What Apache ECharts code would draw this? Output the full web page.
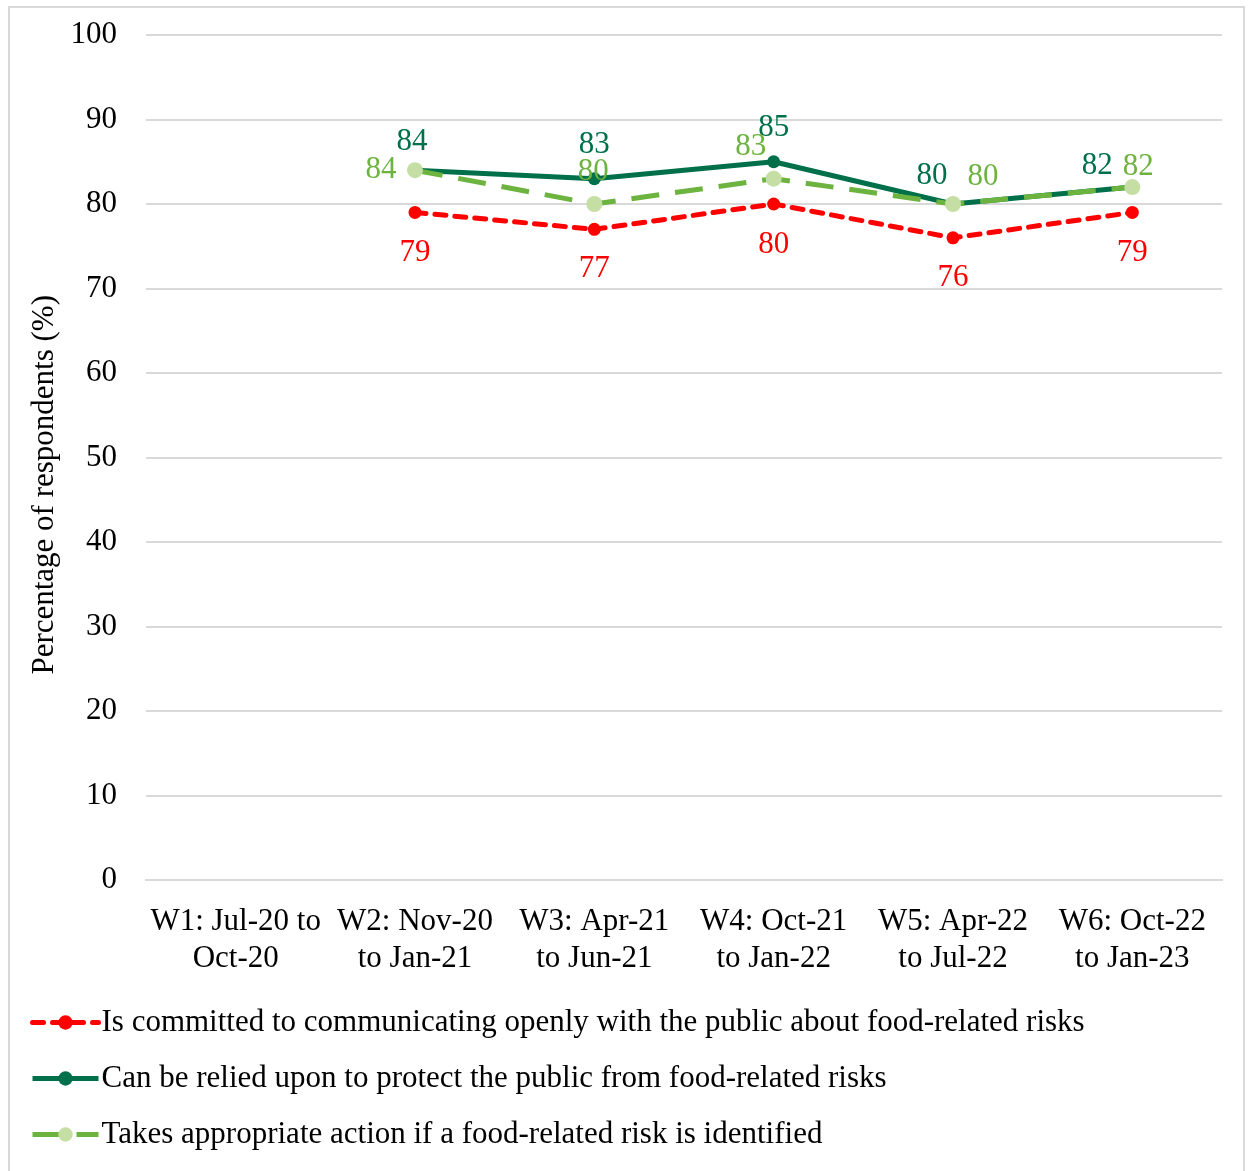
<!DOCTYPE html>
<html>
<head>
<meta charset="utf-8">
<script src="https://cdn.jsdelivr.net/npm/echarts@6/dist/echarts.min.js"></script>
<style>
  html, body { margin: 0; padding: 0; background: #fff; }
  #chart { width: 1250px; height: 1171px; }
  #frame { position: absolute; left: 8px; top: 6px; width: 1237px; height: 1175px;
           border: 2px solid #d9d9d9; box-sizing: border-box; pointer-events: none; }
</style>
</head>
<body>
<div id="chart"></div>
<div id="frame"></div>
<script>
// Survey waves (x axis)
const waves = [
  'W1: Jul-20 to\nOct-20',
  'W2: Nov-20\nto Jan-21',
  'W3: Apr-21\nto Jun-21',
  'W4: Oct-21\nto Jan-22',
  'W5: Apr-22\nto Jul-22',
  'W6: Oct-22\nto Jan-23'
];

// Percentage of respondents agreeing, per wave (no data for W1)
const communicatesOpenly = [null, 79, 77, 80, 76, 79];
const reliedUponToProtect = [null, 84, 83, 85, 80, 82];
const takesAppropriateAction = [null, 84, 80, 83, 80, 82];

const seriesNames = [
  'Is committed to communicating openly with the public about food-related risks',
  'Can be relied upon to protect the public from food-related risks',
  'Takes appropriate action if a food-related risk is identified'
];

// Y axis ticks
const yTicks = [0, 10, 20, 30, 40, 50, 60, 70, 80, 90, 100];

// Label offsets from each point (keeps overlapping labels readable)
const redOffsets   = [null, [0, 40], [0, 40], [0, 41], [0, 40], [0, 40]];
const darkOffsets  = [null, [-3, -28], [0, -34], [0, -34], [-21, -28], [-35, -21]];
const lightOffsets = [null, [-34, 0], [-1, -32], [-23, -32], [30, -27], [6, -20]];

const FONT = '"Liberation Serif", "Times New Roman", serif';
const FS = 31;
const RED = '#ff0000';
const DARK = '#00704a';
const LIGHT = '#6cb33f';
const LIGHT_MARK = '#c5dea4';

function withLabels(values, offsets, color) {
  return values.map((v, i) => v === null ? null : {
    value: v,
    label: {
      show: true,
      position: 'inside',
      offset: offsets[i],
      color: color,
      fontFamily: FONT,
      fontSize: FS
    }
  });
}

const chart = echarts.init(document.getElementById('chart'), null, { renderer: 'canvas' });

chart.setOption({
  animation: false,
  backgroundColor: '#ffffff',
  grid: { left: 146, right: 28, top: 35, bottom: 291, containLabel: false },
  xAxis: {
    type: 'category',
    data: waves,
    boundaryGap: true,
    axisLine: { show: true, lineStyle: { color: '#d9d9d9', width: 2 } },
    axisTick: { show: false },
    axisLabel: {
      interval: 0,
      margin: 23,
      color: '#000',
      fontFamily: FONT,
      fontSize: FS,
      lineHeight: 37
    }
  },
  yAxis: {
    type: 'value',
    min: 0,
    max: 100,
    interval: 10,
    axisLine: { show: false },
    axisTick: { show: false },
    axisLabel: {
      margin: 29,
      color: '#000',
      fontFamily: FONT,
      fontSize: FS,
      padding: [4, 0, 0, 0],
      formatter: v => yTicks.includes(v) ? String(v) : ''
    },
    splitLine: { lineStyle: { color: '#d9d9d9', width: 2 } }
  },
  graphic: [{
    type: 'text',
    left: 29,
    top: 295,
    rotation: Math.PI / 2,
    style: {
      text: 'Percentage of respondents (%)',
      fontFamily: FONT,
      fontSize: FS,
      fill: '#000'
    }
  }],
  legend: {
    orient: 'vertical',
    left: 25,
    top: 1002,
    itemWidth: 66,
    itemHeight: 18,
    itemGap: 25,
    lineStyle: { width: 5 },
    textStyle: { color: '#000', fontFamily: FONT, fontSize: FS, lineHeight: 31, padding: [0, 0, 0, -2] },
    data: seriesNames
  },
  series: [
    {
      name: seriesNames[0],
      type: 'line',
      data: withLabels(communicatesOpenly, redOffsets, RED),
      symbol: 'circle',
      symbolSize: 13,
      itemStyle: { color: RED },
      lineStyle: { color: RED, width: 5, type: [11, 9], cap: 'round' },
      connectNulls: false,
      z: 2
    },
    {
      name: seriesNames[1],
      type: 'line',
      data: withLabels(reliedUponToProtect, darkOffsets, DARK),
      symbol: 'circle',
      symbolSize: 13,
      itemStyle: { color: DARK },
      lineStyle: { color: DARK, width: 5 },
      z: 3
    },
    {
      name: seriesNames[2],
      type: 'line',
      data: withLabels(takesAppropriateAction, lightOffsets, LIGHT),
      symbol: 'circle',
      symbolSize: 16,
      itemStyle: { color: LIGHT_MARK },
      lineStyle: { color: LIGHT, width: 5, type: [28, 16] },
      z: 4
    }
  ]
});
</script>
</body>
</html>
